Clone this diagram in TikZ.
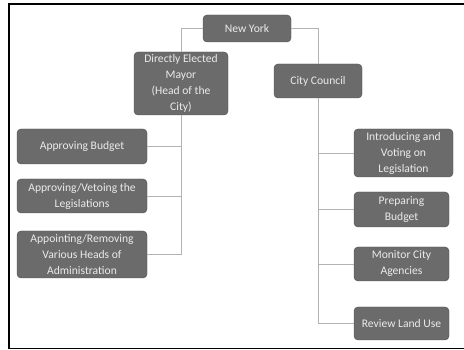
\documentclass[tikz,border=0pt]{standalone}
\usepackage{fontspec}
\setmainfont{Carlito}
\usetikzlibrary{calc,positioning}

\begin{document}
\begin{tikzpicture} [x=1pt,y=-1pt,{orgbox/.style={rectangle,rounded corners=4pt,draw=black!70,fill=black!58,text=black!8,font=\fontsize{11.6}{16}\selectfont,align=center,inner sep=1pt}},{linest/.style={color=black!30,line width=0.8pt}}]
	%%page and frame
	\useasboundingbox (0,0) rectangle (464,350);
	\draw [line width=1.6pt] (470,4)--(9,4)--(9,348.5)--(470,348.5);
	%%top level
	\node [orgbox,minimum width=88pt,minimum height=27pt] (NY) at (247,28.5) {New York};
	\node [orgbox,minimum width=94pt,minimum height=63pt] (Mayor) at (181,83.5) {Directly Elected\\Mayor\\(Head of the\\City)};
	\node [orgbox,minimum width=88pt,minimum height=34pt] (Council) at (318,81) {City Council};
	%%mayor branch
	\node [orgbox,minimum width=130pt,minimum height=35pt] (Budget) at (82,146.5) {Approving Budget};
	\node [orgbox,minimum width=130pt,minimum height=34pt] (Veto) at (82,196) {Approving/Vetoing the\\Legislations};
	\node [orgbox,minimum width=130pt,minimum height=47pt] (Appoint) at (82,254.5) {Appointing/Removing\\Various Heads of\\Administration};
	%%council branch
	\node [orgbox,minimum width=99pt,minimum height=48pt] (Intro) at (403.5,153) {Introducing and\\Voting on\\Legislation};
	\node [orgbox,minimum width=95pt,minimum height=35pt] (Prep) at (401.5,209.5) {Preparing\\Budget};
	\node [orgbox,minimum width=95pt,minimum height=34pt] (Monitor) at (401.5,264) {Monitor City\\Agencies};
	\node [orgbox,minimum width=95pt,minimum height=33pt] (Land) at (401.5,323.5) {Review Land Use};
	%%connectors
	\draw [linest] (NY.west) -| (Mayor.north);
	\draw [linest] (NY.east) -| (Council.north);
	\coordinate (mt) at (Mayor.south);
	\draw [linest] (mt) |- (Appoint.east);
	\draw [linest] (mt) |- (Budget.east);
	\draw [linest] (mt) |- (Veto.east);
	\coordinate (ct) at (Council.south);
	\draw [linest] (ct) |- (Land.west);
	\draw [linest] (ct) |- (Intro.west);
	\draw [linest] (ct) |- (Prep.west);
	\draw [linest] (ct) |- (Monitor.west);
\end{tikzpicture}
\end{document}
